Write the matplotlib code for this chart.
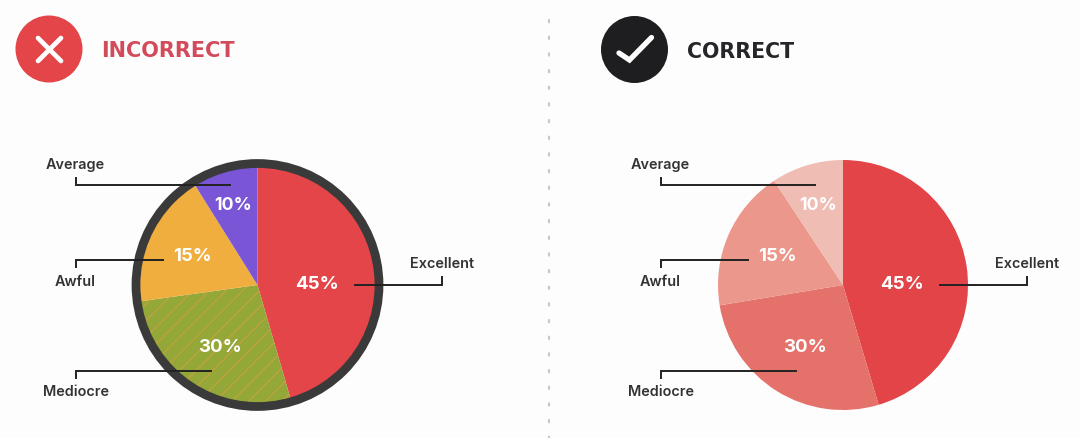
import matplotlib
matplotlib.use("Agg")
import matplotlib.pyplot as plt
from matplotlib.patches import Circle

W, H = 1080, 438
plt.rcParams['font.family'] = ['Inter', 'DejaVu Sans']
plt.rcParams['hatch.linewidth'] = 0.8

categories = ["Excellent", "Mediocre", "Awful", "Average"]
percent_labels = ["45%", "30%", "15%", "10%"]
# angular shares as actually drawn in the picture (they differ a bit from the printed labels)
shares_left = [45.5, 27.3, 18.3, 8.9]
shares_right = [45.4, 27.0, 18.3, 9.3]
colors_left = ["#e34548", "#93a838", "#f0ae3f", "#7a55d6"]
colors_right = ["#e24448", "#e5716b", "#ec978c", "#efbdb3"]

fig = plt.figure(figsize=(W / 100, H / 100), dpi=100, facecolor="#fdfdfd")
ov = fig.add_axes([0, 0, 1, 1], zorder=3)
ov.set_xlim(0, W); ov.set_ylim(H, 0); ov.axis("off"); ov.patch.set_alpha(0)


def pie_axes(cx, cy, r):
    ax = fig.add_axes([(cx - r) / W, 1 - (cy + r) / H, 2 * r / W, 2 * r / H], zorder=2)
    ax.patch.set_alpha(0)
    return ax


# left pie with heavy border
axl = pie_axes(257.5, 285, 118.5)
wl, _ = axl.pie(shares_left, colors=colors_left, startangle=90, counterclock=False, radius=1,
                wedgeprops=dict(linewidth=0))
wl[1].set_hatch("//")
wl[1].set_edgecolor("#c8a03e")
axl.set_xlim(-1, 1); axl.set_ylim(-1, 1)
ov.add_patch(Circle((257.5, 285), 121.5, fill=False, ec="#3a3a3a", lw=6.3, zorder=1))

# right pie
axr = pie_axes(843, 285, 125)
axr.pie(shares_right, colors=colors_right, startangle=90, counterclock=False, radius=1,
        wedgeprops=dict(linewidth=0))
axr.set_xlim(-1, 1); axr.set_ylim(-1, 1)

# offset between the panels' annotations
for dx in (0, 585):
    # leader lines
    for xs, ys in (
        ([75.5, 75.5, 230], [178, 185, 185]),
        ([75.5, 75.5, 163], [267, 259.5, 259.5]),
        ([75.5, 75.5, 211], [378, 370.5, 370.5]),
        ([442, 442, 355], [277, 284.5, 284.5]),
    ):
        ov.plot([x + dx for x in xs], ys, color="#222222", lw=1.4, zorder=5, solid_joinstyle="miter")
    for s, x, y in (("Average", 75.5, 165.5), ("Awful", 75.5, 282.5), ("Mediocre", 76, 392.5), ("Excellent", 442, 264)):
        ov.text(x + dx, y, s, ha="center", va="center", fontsize=10.4, fontweight="semibold", color="#333333")
    for s, x, y, fs in (("45%", 317, 284.5, 13.5), ("30%", 220, 347.5, 13.5), ("15%", 192, 256.5, 13.3), ("10%", 233, 205.5, 12.8)):
        ov.text(x + dx, y, s, ha="center", va="center", fontsize=fs, fontweight="bold",
                color="white", zorder=6)

# header icons
ov.add_patch(Circle((49, 49), 33.5, fc="#e34548", ec="none"))
ov.plot([38, 61], [38, 61], color="white", lw=3.4, solid_capstyle="round")
ov.plot([38, 61], [61, 38], color="white", lw=3.4, solid_capstyle="round")
ov.text(101, 51, "INCORRECT", ha="left", va="center", fontsize=15, fontweight="bold",
        family="DejaVu Sans", color="#d24b5a")

ov.add_patch(Circle((634.5, 49.5), 33.5, fc="#1e1e20", ec="none"))
ov.plot([619, 629.5, 651.5], [53, 60, 37.5], color="white", lw=3.8, solid_capstyle="round", solid_joinstyle="miter")
ov.text(687, 52.5, "CORRECT", ha="left", va="center", fontsize=14.8, fontweight="bold",
        family="DejaVu Sans", color="#26262a")

# dotted divider
ov.plot([549, 549], [20, 438], color="#c8c8cc", lw=1.6, linestyle=(0, (1, 6.5)), dash_capstyle="round")

fig.savefig("out.png", dpi=100, facecolor=fig.get_facecolor())
